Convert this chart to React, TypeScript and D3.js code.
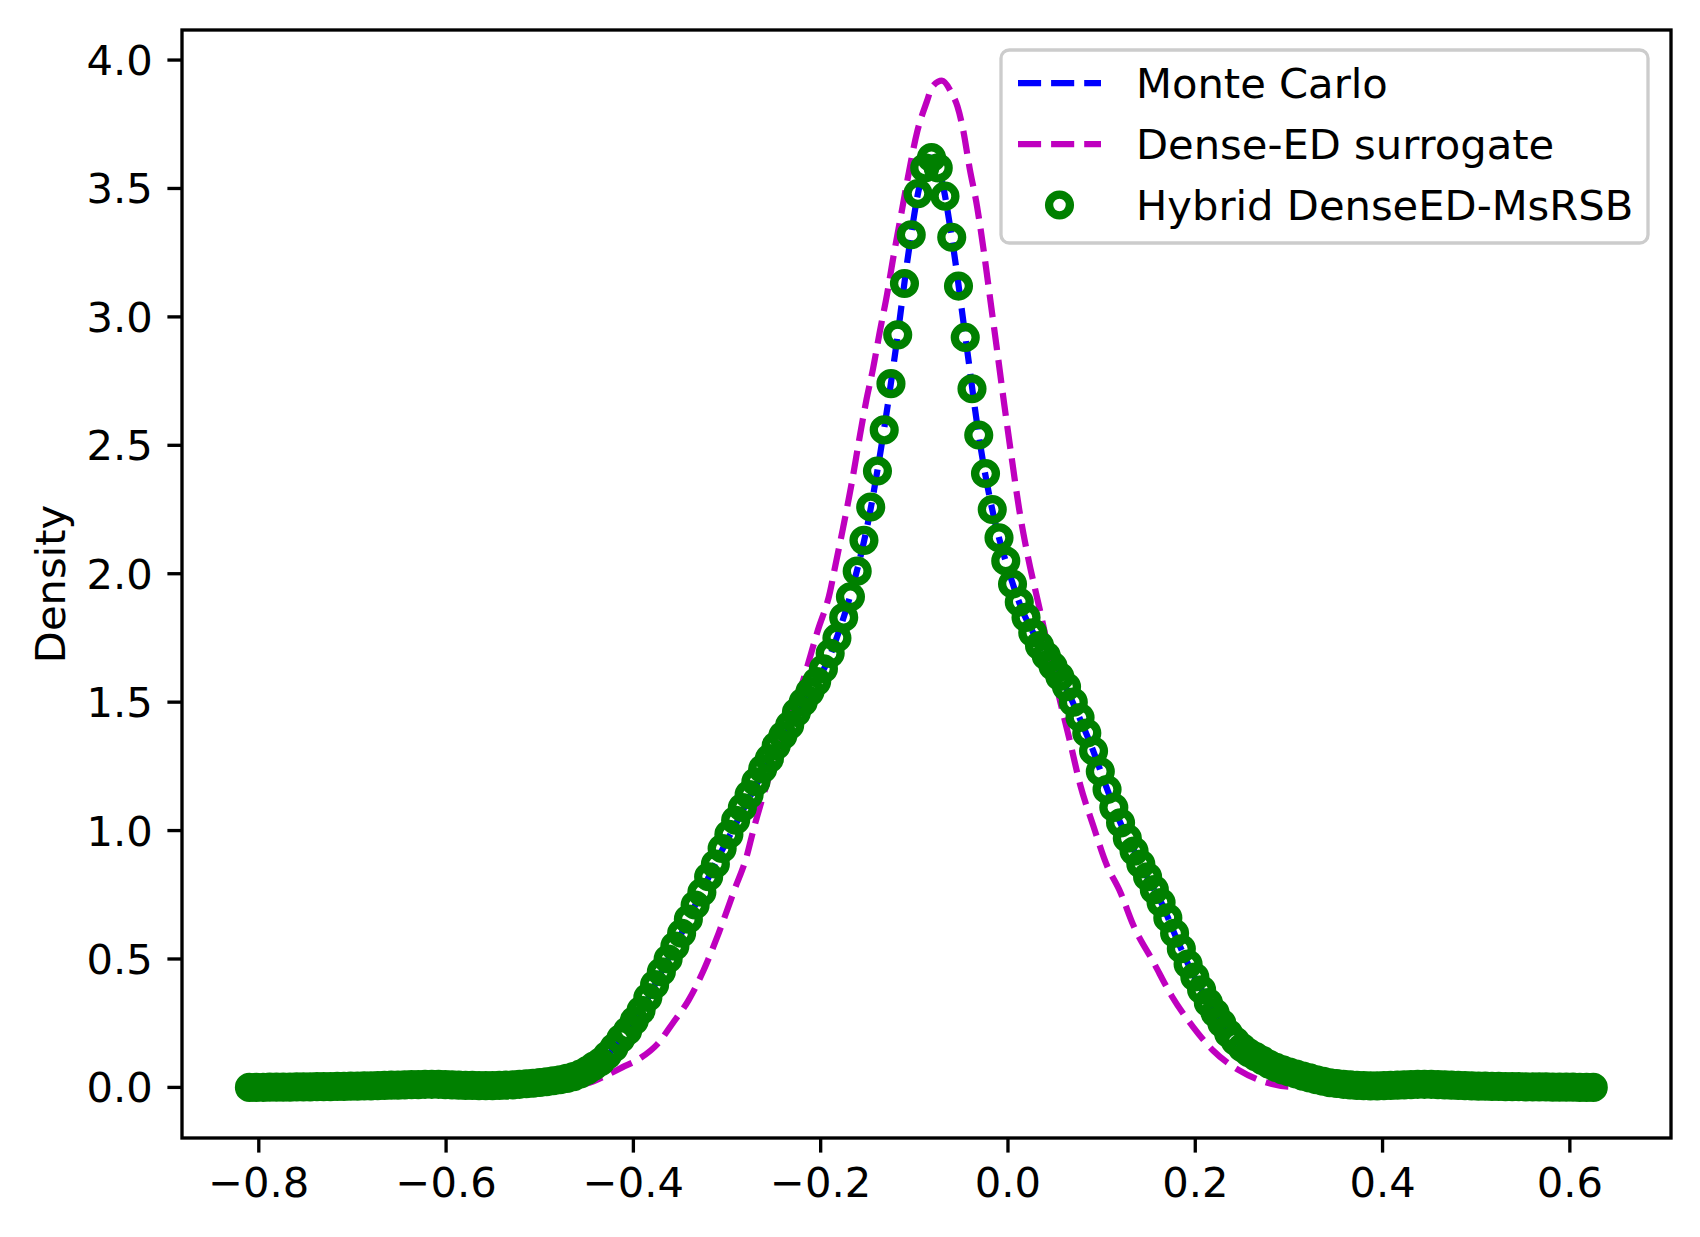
import * as d3 from "d3";

// figure size (300 dpi matplotlib export)
const W = 1700;
const H = 1237;
const FONT = "DejaVu Sans";
const FS = 41.67;

// axes box in pixels
const box = { left: 182, right: 1671, top: 30, bottom: 1138 };
const xLim = [-0.882, 0.708];
const yLim = [-0.197, 4.117];

const xTicks = [-0.8, -0.6, -0.4, -0.2, 0.0, 0.2, 0.4, 0.6];
const yTicks = [0.0, 0.5, 1.0, 1.5, 2.0, 2.5, 3.0, 3.5, 4.0];

// Monte Carlo density (blue dashed)
const mcX = [
  -0.81, -0.7, -0.62, -0.55, -0.5, -0.47, -0.45, -0.43, -0.41, -0.39, -0.37, -0.35, -0.33, -0.31,
  -0.29, -0.27, -0.25, -0.23, -0.21, -0.195, -0.18, -0.165, -0.15, -0.135, -0.12, -0.105, -0.095,
  -0.082, -0.07, -0.06, -0.045, -0.03, -0.015, 0.0, 0.015, 0.03, 0.045, 0.06, 0.075, 0.09, 0.105,
  0.12, 0.135, 0.15, 0.165, 0.18, 0.195, 0.21, 0.225, 0.24, 0.26, 0.28, 0.3, 0.33, 0.36, 0.4, 0.45,
  0.5, 0.625,
];
const mcY = [
  0.0, 0.003, 0.01, 0.007, 0.019, 0.035, 0.066, 0.115, 0.205, 0.31, 0.45, 0.59, 0.74, 0.89,
  1.03, 1.17, 1.3, 1.42, 1.55, 1.64, 1.78, 1.96, 2.19, 2.5, 2.87, 3.28, 3.5,
  3.62, 3.52, 3.31, 2.91, 2.51, 2.22, 2.02, 1.86, 1.75, 1.66, 1.57, 1.45, 1.32, 1.17,
  1.03, 0.92, 0.81, 0.71, 0.58, 0.46, 0.36, 0.27, 0.19, 0.13, 0.088, 0.06, 0.032, 0.012, 0.006, 0.01,
  0.004, 0.0,
];

// Dense-ED surrogate density (magenta dashed)
const surX = [
  -0.81, -0.6, -0.5, -0.47, -0.45, -0.43, -0.412, -0.393, -0.374, -0.358, -0.341, -0.325, -0.309,
  -0.292, -0.279, -0.272, -0.255, -0.238, -0.22, -0.203, -0.19, -0.185, -0.176, -0.167, -0.158,
  -0.151, -0.144, -0.137, -0.129, -0.123, -0.113, -0.107, -0.097, -0.0865, -0.081, -0.0705, -0.06,
  -0.054, -0.048, -0.041, -0.033, -0.026, -0.019, -0.012, -0.004, 0.004, 0.012, 0.02, 0.034, 0.052,
  0.066, 0.077, 0.091, 0.105, 0.12, 0.134, 0.155, 0.175, 0.198, 0.219, 0.247, 0.279, 0.3, 0.35, 0.625,
];
const surY = [
  0.0, 0.0, 0.002, 0.006, 0.015, 0.045, 0.078, 0.113, 0.17, 0.25, 0.34, 0.456, 0.6,
  0.77, 0.9, 1.0, 1.21, 1.39, 1.57, 1.78, 1.93, 2.02, 2.18, 2.35, 2.54,
  2.68, 2.8, 2.94, 3.09, 3.22, 3.42, 3.54, 3.72, 3.84, 3.895, 3.92, 3.87,
  3.82, 3.73, 3.58, 3.43, 3.26, 3.07, 2.88, 2.66, 2.45, 2.25, 2.09, 1.86, 1.56,
  1.35, 1.18, 1.02, 0.87, 0.76, 0.63, 0.49, 0.355, 0.234, 0.144, 0.066, 0.016, 0.003, 0.0, 0.0,
];

// Hybrid DenseED-MsRSB density, 200 evenly spaced samples (green circles)
const hybridRange = [-0.81, 0.625];
const hybridY = [
  0.0, 0.0, 0.0, 0.001, 0.001, 0.001, 0.001, 0.002, 0.002, 0.002,
  0.003, 0.003, 0.003, 0.004, 0.004, 0.005, 0.005, 0.006, 0.006, 0.007,
  0.008, 0.009, 0.009, 0.01, 0.011, 0.011, 0.012, 0.012, 0.012, 0.011,
  0.01, 0.009, 0.008, 0.008, 0.007, 0.007, 0.007, 0.008, 0.009, 0.01,
  0.012, 0.014, 0.016, 0.019, 0.022, 0.026, 0.03, 0.035, 0.042, 0.052,
  0.066, 0.083, 0.1, 0.125, 0.155, 0.19, 0.22, 0.26, 0.3, 0.35,
  0.4, 0.45, 0.5, 0.55, 0.6, 0.655, 0.71, 0.76, 0.82, 0.87,
  0.93, 0.985, 1.04, 1.09, 1.14, 1.19, 1.24, 1.28, 1.33, 1.37,
  1.41, 1.46, 1.5, 1.54, 1.58, 1.63, 1.69, 1.75, 1.83, 1.91,
  2.01, 2.13, 2.26, 2.4, 2.56, 2.74, 2.93, 3.13, 3.32, 3.48,
  3.58, 3.62, 3.58, 3.47, 3.31, 3.12, 2.92, 2.72, 2.54, 2.39,
  2.25, 2.14, 2.05, 1.96, 1.89, 1.83, 1.77, 1.72, 1.68, 1.64,
  1.6, 1.56, 1.5, 1.44, 1.38, 1.31, 1.23, 1.16, 1.09, 1.03,
  0.97, 0.92, 0.87, 0.82, 0.77, 0.72, 0.66, 0.6, 0.54, 0.48,
  0.43, 0.38, 0.33, 0.29, 0.25, 0.21, 0.18, 0.155, 0.135, 0.12,
  0.105, 0.09, 0.078, 0.068, 0.06, 0.052, 0.044, 0.037, 0.03, 0.024,
  0.018, 0.015, 0.012, 0.01, 0.008, 0.007, 0.006, 0.006, 0.007, 0.008,
  0.009, 0.01, 0.011, 0.012, 0.012, 0.012, 0.011, 0.01, 0.009, 0.008,
  0.007, 0.006, 0.005, 0.005, 0.004, 0.004, 0.003, 0.003, 0.003, 0.002,
  0.002, 0.002, 0.002, 0.001, 0.001, 0.001, 0.001, 0.0, 0.0, 0.0,
];

const legendLabels = ["Monte Carlo", "Dense-ED surrogate", "Hybrid DenseED-MsRSB"];

const BLUE = "#0000ff";
const MAGENTA = "#bf00bf";
const GREEN = "#008000";

const LW = 6.25;
const DASH = "23.1,10";
const TICK = 14.6;
const SPINE = 3.33;

const fmt = (v: number) => v.toFixed(1).replace("-", "\u2212");

export default function App() {
  const x = d3.scaleLinear().domain(xLim).range([box.left, box.right]);
  const y = d3.scaleLinear().domain(yLim).range([box.bottom, box.top]);

  const toX = d3.scaleLinear().domain([0, hybridY.length - 1]).range(hybridRange);

  const line = d3
    .line<[number, number]>()
    .x((d) => x(d[0]))
    .y((d) => y(d[1]))
    .curve(d3.curveMonotoneX);

  const mcPath = line(mcX.map((v, i) => [v, mcY[i]]))!;
  const surPath = line(surX.map((v, i) => [v, surY[i]]))!;

  const lg = { x: 1001, y: 50, w: 647, h: 193, row: 61, first: 83, handle: 1018, handleLen: 83, text: 1136 };

  return (
    <div>
      <style>{`body{margin:0}`}</style>
      <svg width={W} height={H} viewBox={`0 0 ${W} ${H}`} fontFamily={FONT} style={{ display: "block", background: "#fff" }}>
        <rect x={0} y={0} width={W} height={H} fill="#fff" />
        <defs>
          <clipPath id="plot">
            <rect x={box.left} y={box.top} width={box.right - box.left} height={box.bottom - box.top} />
          </clipPath>
        </defs>

        <g clipPath="url(#plot)">
          <path d={mcPath} fill="none" stroke={BLUE} strokeWidth={LW} strokeDasharray={DASH} />
          <path d={surPath} fill="none" stroke={MAGENTA} strokeWidth={LW} strokeDasharray={DASH} />
          {hybridY.map((v, i) => (
            <circle key={i} cx={x(toX(i))} cy={y(v)} r={10.4} fill="none" stroke={GREEN} strokeWidth={8.33} />
          ))}
        </g>

        {/* spines */}
        <rect
          x={box.left}
          y={box.top}
          width={box.right - box.left}
          height={box.bottom - box.top}
          fill="none"
          stroke="#000"
          strokeWidth={SPINE}
          strokeLinejoin="miter"
        />

        {/* x axis */}
        {xTicks.map((t) => (
          <g key={`x${t}`}>
            <line x1={x(t)} x2={x(t)} y1={box.bottom} y2={box.bottom + TICK} stroke="#000" strokeWidth={SPINE} />
            <text x={x(t)} y={1197} textAnchor="middle" fontSize={FS} fill="#000">
              {fmt(t)}
            </text>
          </g>
        ))}

        {/* y axis */}
        {yTicks.map((t) => (
          <g key={`y${t}`}>
            <line x1={box.left - TICK} x2={box.left} y1={y(t)} y2={y(t)} stroke="#000" strokeWidth={SPINE} />
            <text x={box.left - TICK - 14.6} y={y(t) + 15} textAnchor="end" fontSize={FS} fill="#000">
              {fmt(t)}
            </text>
          </g>
        ))}

        <text transform={`translate(65,${(box.top + box.bottom) / 2}) rotate(-90)`} textAnchor="middle" fontSize={FS} fill="#000">
          Density
        </text>

        {/* legend */}
        <rect x={lg.x} y={lg.y} width={lg.w} height={lg.h} rx={8.3} fill="#fff" fillOpacity={0.8} stroke="#cccccc" strokeWidth={SPINE} />
        {legendLabels.map((label, i) => {
          const cy = lg.first + i * lg.row;
          return (
            <g key={label}>
              {i < 2 ? (
                <line
                  x1={lg.handle}
                  x2={lg.handle + lg.handleLen}
                  y1={cy}
                  y2={cy}
                  stroke={i === 0 ? BLUE : MAGENTA}
                  strokeWidth={LW}
                  strokeDasharray={DASH}
                />
              ) : (
                <circle cx={lg.handle + lg.handleLen / 2} cy={cy} r={10.4} fill="none" stroke={GREEN} strokeWidth={8.33} />
              )}
              <text x={lg.text} y={cy + 15} fontSize={FS} fill="#000">
                {label}
              </text>
            </g>
          );
        })}
      </svg>
    </div>
  );
}
